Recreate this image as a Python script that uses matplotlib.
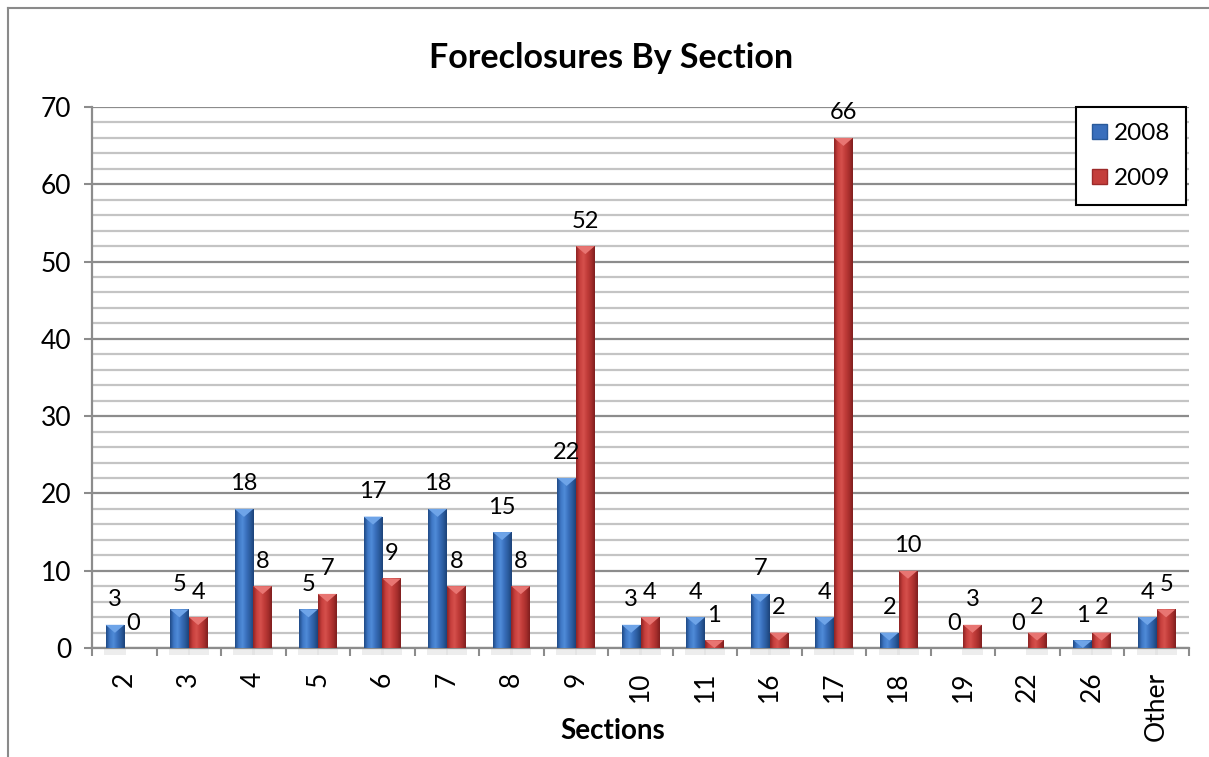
import numpy as np
import matplotlib
matplotlib.use("Agg")
import matplotlib.pyplot as plt
from matplotlib.colors import LinearSegmentedColormap
from matplotlib.patches import Polygon, Patch
from matplotlib.lines import Line2D

plt.rcParams['font.family'] = ['Lato', 'DejaVu Sans']

# data
sections = ['2', '3', '4', '5', '6', '7', '8', '9', '10', '11',
            '16', '17', '18', '19', '22', '26', 'Other']
y2008 = [3, 5, 18, 5, 17, 18, 15, 22, 3, 4, 7, 4, 2, 0, 0, 1, 4]
y2009 = [0, 4, 8, 7, 9, 8, 8, 52, 4, 1, 2, 66, 10, 3, 2, 2, 5]

W, H = 1209, 757
fig = plt.figure(figsize=(W / 100, H / 100), dpi=100)
ax = fig.add_axes([92 / W, 1 - 648 / H, (1189 - 92) / W, (648 - 107) / H])

# colours (Excel 2007 style)
blue_cm = LinearSegmentedColormap.from_list(
    'b', ['#1f4a86', '#3f78c6', '#4f8bd8', '#3a70bd', '#2b5c9f', '#1c4379'])
red_cm = LinearSegmentedColormap.from_list(
    'r', ['#8e2424', '#c8403d', '#d5504c', '#c13c39', '#a82f2d', '#7f1f1f'])
blue_mid, red_mid = '#3a6fbc', '#c43e3b'
blue_top, red_top = '#6ea4e8', '#e87572'

x = np.arange(len(sections))
bw = 0.29
b1 = ax.bar(x - bw / 2, y2008, bw, color=blue_mid, zorder=3, label='2008')
b2 = ax.bar(x + bw / 2, y2009, bw, color=red_mid, zorder=3, label='2009')

ax.set_xlim(-0.5, len(sections) - 0.5)
ax.set_ylim(0, 70)

grad = np.linspace(0, 1, 64).reshape(1, -1)
tri_h = 70 / 541 * 8  # ~8 px bevel
for bars, cm, topc in [(b1, blue_cm, blue_top), (b2, red_cm, red_top)]:
    for p in bars:
        x0, w, h = p.get_x(), p.get_width(), p.get_height()
        if h <= 0:
            continue
        im = ax.imshow(grad, cmap=cm, aspect='auto', extent=[x0, x0 + w, 0, h],
                       zorder=3.5, interpolation='bilinear')
        im.set_clip_path(p)
        tri = Polygon([[x0, h], [x0 + w, h], [x0 + w / 2, h - min(tri_h, h)]],
                      closed=True, facecolor=topc, edgecolor='none', zorder=4)
        ax.add_patch(tri)
        # soft shadow under the bar
        ax.fill_between([x0 - 0.02, x0 + w + 0.02], -0.9, 0, color='#dcdcdc',
                        alpha=0.5, zorder=1, clip_on=False, lw=0)

ax.set_ylim(0, 70)
ax.set_xlim(-0.5, len(sections) - 0.5)

# data labels
for bars, vals in [(b1, y2008), (b2, y2009)]:
    for p, v in zip(bars, vals):
        ax.annotate(str(v), (p.get_x() + p.get_width() / 2, v),
                    xytext=(0, 18), textcoords='offset points',
                    ha='center', va='center', fontsize=17, zorder=6)

# gridlines
ax.set_yticks(np.arange(0, 71, 10))
ax.set_yticks(np.arange(0, 71, 2), minor=True)
ax.yaxis.grid(True, which='major', color='#8c8c8c', lw=1.6, zorder=0)
ax.yaxis.grid(True, which='minor', color='#c4c4c4', lw=1.6, zorder=0)
ax.set_axisbelow(True)

ax.set_xticks(x)
ax.set_xticklabels(sections, rotation=90, fontsize=19)
ax.set_xticks(np.arange(-0.5, len(sections)), minor=True)
ax.tick_params(axis='x', which='major', length=0, pad=17)
ax.tick_params(axis='x', which='minor', length=6, width=1.5, color='#8c8c8c')
ax.tick_params(axis='y', which='major', length=6, width=1.5, color='#8c8c8c',
               labelsize=19, pad=9)
ax.tick_params(axis='y', which='minor', length=0)

for s in ['top', 'right']:
    ax.spines[s].set_visible(False)
for s in ['left', 'bottom']:
    ax.spines[s].set_color('#8c8c8c')
    ax.spines[s].set_linewidth(1.6)

fig.text(613 / W, 1 - 731 / H, 'Sections', ha='center', va='center',
         fontsize=20, fontweight='bold')
fig.text(611 / W, 1 - 58 / H, 'Foreclosures By Section', ha='center',
         va='center', fontsize=24.5, fontweight='bold')

handles = [Patch(facecolor=blue_mid, edgecolor='#2a5a9a'),
           Patch(facecolor=red_mid, edgecolor='#9c2a2a')]
leg = ax.legend(handles, ['2008', '2009'], loc='upper right',
                bbox_to_anchor=(1186 / W, 1 - 107 / H),
                bbox_transform=fig.transFigure, fontsize=17.5, frameon=True,
                fancybox=False, framealpha=1, edgecolor='black',
                handlelength=0.6, handleheight=0.6, handletextpad=0.3,
                labelspacing=1.0, borderpad=0.65, borderaxespad=0)
leg.get_frame().set_linewidth(1.5)

# chart border (left and top edges)
fig.add_artist(Line2D([8 / W, 8 / W], [0, 1 - 8 / H], color='#8a8a8a', lw=1.5))
fig.add_artist(Line2D([8 / W, 1], [1 - 8 / H, 1 - 8 / H], color='#8a8a8a', lw=1.5))

fig.savefig('out.png', dpi=100)
